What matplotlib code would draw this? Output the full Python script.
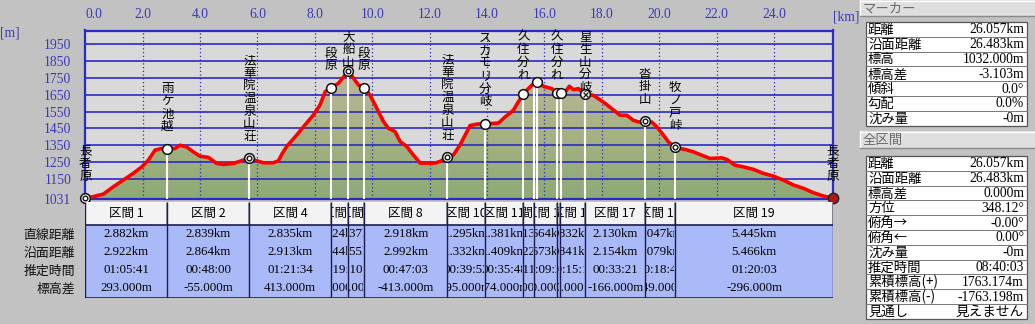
import numpy as np
import matplotlib
matplotlib.use("Agg")
import matplotlib.pyplot as plt
from matplotlib.patches import Rectangle
from matplotlib.transforms import Bbox
from matplotlib.colors import LinearSegmentedColormap

# ---------------- data ----------------
TOTAL_KM = 26.057
dist_km = [0.00, 0.28, 0.63, 0.98, 1.32, 1.67, 1.97, 2.20, 2.43, 2.66, 2.86, 3.13, 3.30, 3.53,
           3.76, 4.00, 4.29, 4.58, 4.81, 5.16, 5.51, 5.72, 5.97, 6.20, 6.55, 6.73, 6.86, 7.02,
           7.37, 7.66, 7.95, 8.18, 8.36, 8.55, 8.82, 9.05, 9.17, 9.52, 9.71, 9.92, 10.16, 10.39,
           10.56, 10.79, 10.97, 11.20, 11.43, 11.67, 12.19, 12.36, 12.62, 12.83, 13.06, 13.24,
           13.41, 13.64, 13.93, 14.17, 14.40, 14.63, 14.92, 15.09, 15.27, 15.44, 15.62, 15.75,
           15.96, 16.26, 16.43, 16.57, 16.72, 16.87, 17.01, 17.18, 17.42, 17.71, 18.05, 18.35,
           18.64, 18.87, 19.10, 19.28, 19.51, 19.74, 19.92, 20.15, 20.32, 20.56, 20.90, 21.19,
           21.48, 21.77, 22.18, 22.36, 22.64, 22.93, 23.28, 23.63, 23.98, 24.33, 24.68, 25.03,
           25.38, 25.72, 26.057]
elev_m = [1035, 1045, 1060, 1104, 1143, 1183, 1222, 1262, 1321, 1331, 1330, 1331, 1350, 1340,
          1311, 1285, 1278, 1242, 1236, 1242, 1262, 1273, 1258, 1246, 1246, 1258, 1300, 1343,
          1411, 1471, 1530, 1589, 1668, 1692, 1717, 1766, 1790, 1707, 1692, 1648, 1569, 1491,
          1451, 1432, 1372, 1343, 1293, 1244, 1244, 1254, 1278, 1293, 1352, 1411, 1467, 1475,
          1479, 1479, 1482, 1518, 1558, 1607, 1656, 1686, 1716, 1725, 1700, 1686, 1662, 1660,
          1666, 1700, 1680, 1686, 1656, 1646, 1607, 1567, 1528, 1528, 1498, 1488, 1492, 1488,
          1459, 1410, 1370, 1337, 1325, 1311, 1291, 1272, 1275, 1266, 1232, 1222, 1207, 1183,
          1167, 1143, 1114, 1094, 1068, 1049, 1035]

wp_names = ["長者原", "雨ケ池越", "法華院温泉山荘", "段原", "大船山", "段原", "法華院温泉山荘",
            "スカモリ分岐", "久住分れ", "", "", "久住分れ", "", "星生山分岐", "沓掛山", "牧ノ戸峠", "長者原"]
wp_km = [0.00, 2.86, 5.72, 8.55, 9.17, 9.71, 12.62, 13.93, 15.27, 15.64, 15.75, 16.43, 16.57,
         17.42, 19.51, 20.56, 26.057]
wp_elev = [1035, 1330, 1273, 1692, 1790, 1692, 1278, 1479, 1656, 1716, 1725, 1662, 1660,
           1656, 1492, 1337, 1035]
wp_kind = ["double", "plain", "double", "plain", "double", "plain", "double", "plain", "plain",
           "none", "plain", "plain", "plain", "cross", "double", "double", "end"]

sec_edges_km = [0.00, 2.86, 5.72, 8.55, 9.17, 9.71, 12.62, 13.93, 15.27, 15.64, 16.43, 16.55,
                17.42, 19.51, 20.56, 26.057]
sec_names = ["区間 1", "区間 2", "区間 4", "区間 5", "区間 6", "区間 8", "区間 10", "区間 11",
             "区間 12", "区間 13", "区間 14", "区間 16", "区間 17", "区間 18", "区間 19"]
sec_straight = ["2.882km", "2.839km", "2.835km", "0.624km", "0.537km", "2.918km", "1.295km",
                "1.381km", "0.313km", "0.664km", "0.036km", "0.832km", "2.130km", "1.047km", "5.445km"]
sec_surface = ["2.922km", "2.864km", "2.913km", "0.644km", "0.555km", "2.992km", "1.332km",
               "1.409km", "0.322km", "0.673km", "0.036km", "0.841km", "2.154km", "1.079km", "5.466km"]
sec_time = ["01:05:41", "00:48:00", "01:21:34", "00:19:15", "00:10:33", "00:47:03", "00:39:52",
            "00:35:48", "00:11:09", "00:09:24", "00:00:30", "00:15:12", "00:33:21", "00:18:42", "01:20:03"]
sec_diff = ["293.000m", "-55.000m", "413.000m", "94.000m", "-94.000m", "-413.000m", "195.000m",
            "174.000m", "60.000m", "-60.000m", "0.000m", "-4.000m", "-166.000m", "-149.000m", "-296.000m"]
row_labels = ["直線距離", "沿面距離", "推定時間", "標高差"]

xtick_km = [0, 2, 4, 6, 8, 10, 12, 14, 16, 18, 20, 22, 24]
ytick_m = [1031, 1150, 1250, 1350, 1450, 1550, 1650, 1750, 1850, 1950]

marker_title = "マーカー"
marker_keys = ["距離", "沿面距離", "標高", "標高差", "傾斜", "勾配", "沈み量"]
marker_vals = ["26.057km", "26.483km", "1032.000m", "-3.103m", "0.0°", "0.0%", "-0m"]
total_title = "全区間"
total_keys = ["距離", "沿面距離", "標高差", "方位", "俯角→", "俯角←", "沈み量", "推定時間",
              "累積標高(+)", "累積標高(-)", "見通し"]
total_vals = ["26.057km", "26.483km", "0.000m", "348.12°", "-0.00°", "0.00°", "-0m",
              "08:40:03", "1763.174m", "-1763.198m", "見えません"]

# ---------------- style ----------------
W, H, DPI = 1035, 324, 100
BG = "#c2c2c2"
BLUE = "#2a2ac4"
TICKBLUE = "#3a3ab8"
JP = ["Noto Sans CJK JP", "DejaVu Sans"]
NUM = ["Liberation Serif", "Noto Sans CJK JP"]

fig = plt.figure(figsize=(W / DPI, H / DPI), dpi=DPI, facecolor=BG)

PX0, PX1, PY0, PY1 = 85.3, 833.0, 30.5, 199.0
ax = fig.add_axes([PX0 / W, 1 - PY1 / H, (PX1 - PX0) / W, (PY1 - PY0) / H])
ax.set_facecolor("#d9d9d9")
YMIN, YMAX = 1031, 2031

# gradient fill under the profile
cmap = LinearSegmentedColormap.from_list("terrain_fill", ["#8daa76", "#a6b284", "#bcb59a"])
poly = ax.fill_between(dist_km, elev_m, YMIN, facecolor="none", edgecolor="none")
grad = np.linspace(YMIN, YMAX, 256).reshape(-1, 1)
im = ax.imshow(grad, extent=[0, TOTAL_KM, YMIN, YMAX], origin="lower", aspect="auto",
               cmap=cmap, vmin=YMIN, vmax=1800, zorder=1, interpolation="bilinear")
im.set_clip_path(poly.get_paths()[0], transform=ax.transData)
ax.set_xlim(0, TOTAL_KM)
ax.set_ylim(YMIN, YMAX)

# grid
ax.hlines(ytick_m[1:], 0, TOTAL_KM, color=BLUE, lw=1.2, zorder=2)
ax.vlines(xtick_km[1:], YMIN, YMAX, color=BLUE, lw=0.9, linestyles=(0, (1, 2)), zorder=2)

# waypoint drop lines
ax.vlines(wp_km, YMIN, wp_elev, color="white", lw=1.5, zorder=3)

# profile line
ax.plot(dist_km, elev_m, color="#ff0000", lw=2.6, zorder=4, solid_joinstyle="round")

# markers
for k, e, kind in zip(wp_km, wp_elev, wp_kind):
    if kind == "none":
        continue
    if kind == "end":
        ax.plot(k, e, "o", ms=7.5, mfc="#b01818", mec="#202020", mew=1.0, zorder=6, clip_on=False)
        continue
    ax.plot(k, e, "o", ms=7.0, mfc="white", mec="#111111", mew=1.1, zorder=5, clip_on=False)
    if kind == "double":
        ax.plot(k, e, "o", ms=3.4, mfc="white", mec="#111111", mew=1.0, zorder=6, clip_on=False)
    elif kind == "cross":
        ax.plot(k, e, "x", ms=3.6, mec="#222222", mew=1.0, zorder=6, clip_on=False)

# spines & ticks
for s in ax.spines.values():
    s.set_color(BLUE)
    s.set_linewidth(1.6)
ax.xaxis.tick_top()
ax.set_xticks(xtick_km)
ax.set_xticklabels([f"{v:.1f}" for v in xtick_km])
ax.set_yticks(ytick_m)
ax.set_yticklabels([str(v) for v in ytick_m])
ax.tick_params(axis="x", length=0, pad=7, labelcolor=TICKBLUE, labelsize=9.8)
ax.tick_params(axis="y", length=0, pad=10, labelcolor=TICKBLUE, labelsize=9.8)
for lbl in ax.get_xticklabels() + ax.get_yticklabels():
    lbl.set_fontfamily(NUM)
ax.get_xticklabels()[0].set_horizontalalignment("left")

# ---------------- overlay (pixel coordinates) ----------------
ov = fig.add_axes([0, 0, 1, 1], zorder=10)
ov.set_xlim(0, W)
ov.set_ylim(H, 0)
ov.axis("off")
ov.patch.set_visible(False)

ov.text(10, 33, "[m]", fontsize=9.8, color=TICKBLUE, family=NUM, ha="center", va="center")
ov.text(846, 17, "[km]", fontsize=9.8, color=TICKBLUE, family=NUM, ha="center", va="center")

# vertical waypoint labels
fig.canvas.draw()
SP = 12.6
for name, k, e in zip(wp_names, wp_km, wp_elev):
    if not name:
        continue
    dx, dy = ax.transData.transform((k, e))
    my = H - dy
    n = len(name)
    bottom = my - 22
    top = bottom - (n - 1) * SP
    if top < 37:
        shift = 37 - top
        top += shift
        bottom += shift
    for i, ch in enumerate(name):
        ov.text(dx, top + i * SP, ch, fontsize=9, family=JP, color="black",
                ha="center", va="center")

# ---------------- section table ----------------
TY0, TH, TY1 = 201.5, 225.0, 297.5
axt = fig.add_axes([PX0 / W, 1 - TY1 / H, (PX1 - PX0) / W, (TY1 - TY0) / H], zorder=5)
axt.set_xlim(0, TOTAL_KM)
axt.set_ylim(TY1, TY0)
axt.axis("off")

axt.add_patch(Rectangle((0, TH), TOTAL_KM, TY1 - TH, facecolor="#aab9f8", edgecolor="none", zorder=1))
row_y = [234, 252, 270, 288]


def disp_box(x0, y0, x1, y1):
    a, b = axt.transData.transform((x0, y0))
    c, d = axt.transData.transform((x1, y1))
    return Bbox.from_extents(min(a, c) + 1, min(b, d), max(a, c) - 1, max(b, d))


fig.canvas.draw()
for j in range(len(sec_names)):
    e0, e1 = sec_edges_km[j], sec_edges_km[j + 1]
    axt.add_patch(Rectangle((e0, TY0), e1 - e0, TH - TY0, facecolor="#f3f3f3",
                            edgecolor="none", zorder=1))
    # bevel
    axt.plot([e0, e1], [TY0 + 0.8, TY0 + 0.8], color="white", lw=1.2, zorder=2)
    axt.plot([e1, e1], [TY0, TH], color="#8a8a8a", lw=1.2, zorder=2)
    xc = (e0 + e1) / 2
    hb = disp_box(e0, TY0, e1, TH)
    t = axt.text(xc, (TY0 + TH) / 2, sec_names[j], fontsize=9, family=JP, ha="center",
                 va="center", zorder=3)
    t.set_clip_box(hb)
    t.set_clip_on(True)
    db = disp_box(e0, TH, e1, TY1)
    for vals, yy in zip([sec_straight, sec_surface, sec_time, sec_diff], row_y):
        t = axt.text(xc, yy, vals[j], fontsize=9.3, family=NUM, ha="center", va="center", zorder=3)
        t.set_clip_box(db)
        t.set_clip_on(True)

axt.vlines(sec_edges_km, TY0, TY1, color="#1c1c50", lw=1.0, zorder=4)
axt.hlines([TH, TY1], 0, TOTAL_KM, color="#1c1c50", lw=1.2, zorder=4)

for lab, yy in zip(row_labels, row_y):
    ov.text(75, yy + 1, lab, fontsize=9.3, family=JP, ha="right", va="center", color="#111111")

# ---------------- right info panel ----------------
def header(y0, h, title):
    ov.add_patch(Rectangle((860, y0), 175, h, facecolor="#dedede", edgecolor="none"))
    ov.plot([860, 1035], [y0 + 0.5, y0 + 0.5], color="white", lw=1)
    ov.plot([860, 860], [y0, y0 + h], color="white", lw=1)
    ov.plot([860, 1035], [y0 + h - 0.5, y0 + h - 0.5], color="#8a8a8a", lw=1)
    ov.text(863, y0 + h / 2 + 0.5, title, fontsize=9.6, family=JP, color="#6a6a6a",
            ha="left", va="center")


def info_table(y0, rowh, keys, vals):
    n = len(keys)
    ov.add_patch(Rectangle((866, y0), 161, rowh * n, facecolor="white", edgecolor="#555555", lw=0.9))
    for i, (k, v) in enumerate(zip(keys, vals)):
        yc = y0 + rowh * (i + 0.5)
        if i > 0:
            ov.plot([866, 1027], [y0 + rowh * i, y0 + rowh * i], color="#777777", lw=0.7)
        ov.text(868, yc + 0.5, k, fontsize=9.6, family=JP, ha="left", va="center", color="black")
        ov.text(1024, yc + 0.5, v, fontsize=9.8, family=NUM, ha="right", va="center", color="black")


header(0, 16, marker_title)
info_table(22, 14.8, marker_keys, marker_vals)
header(131, 17, total_title)
info_table(156, 14.8, total_keys, total_vals)

fig.savefig("out.png", dpi=DPI, facecolor=BG)
